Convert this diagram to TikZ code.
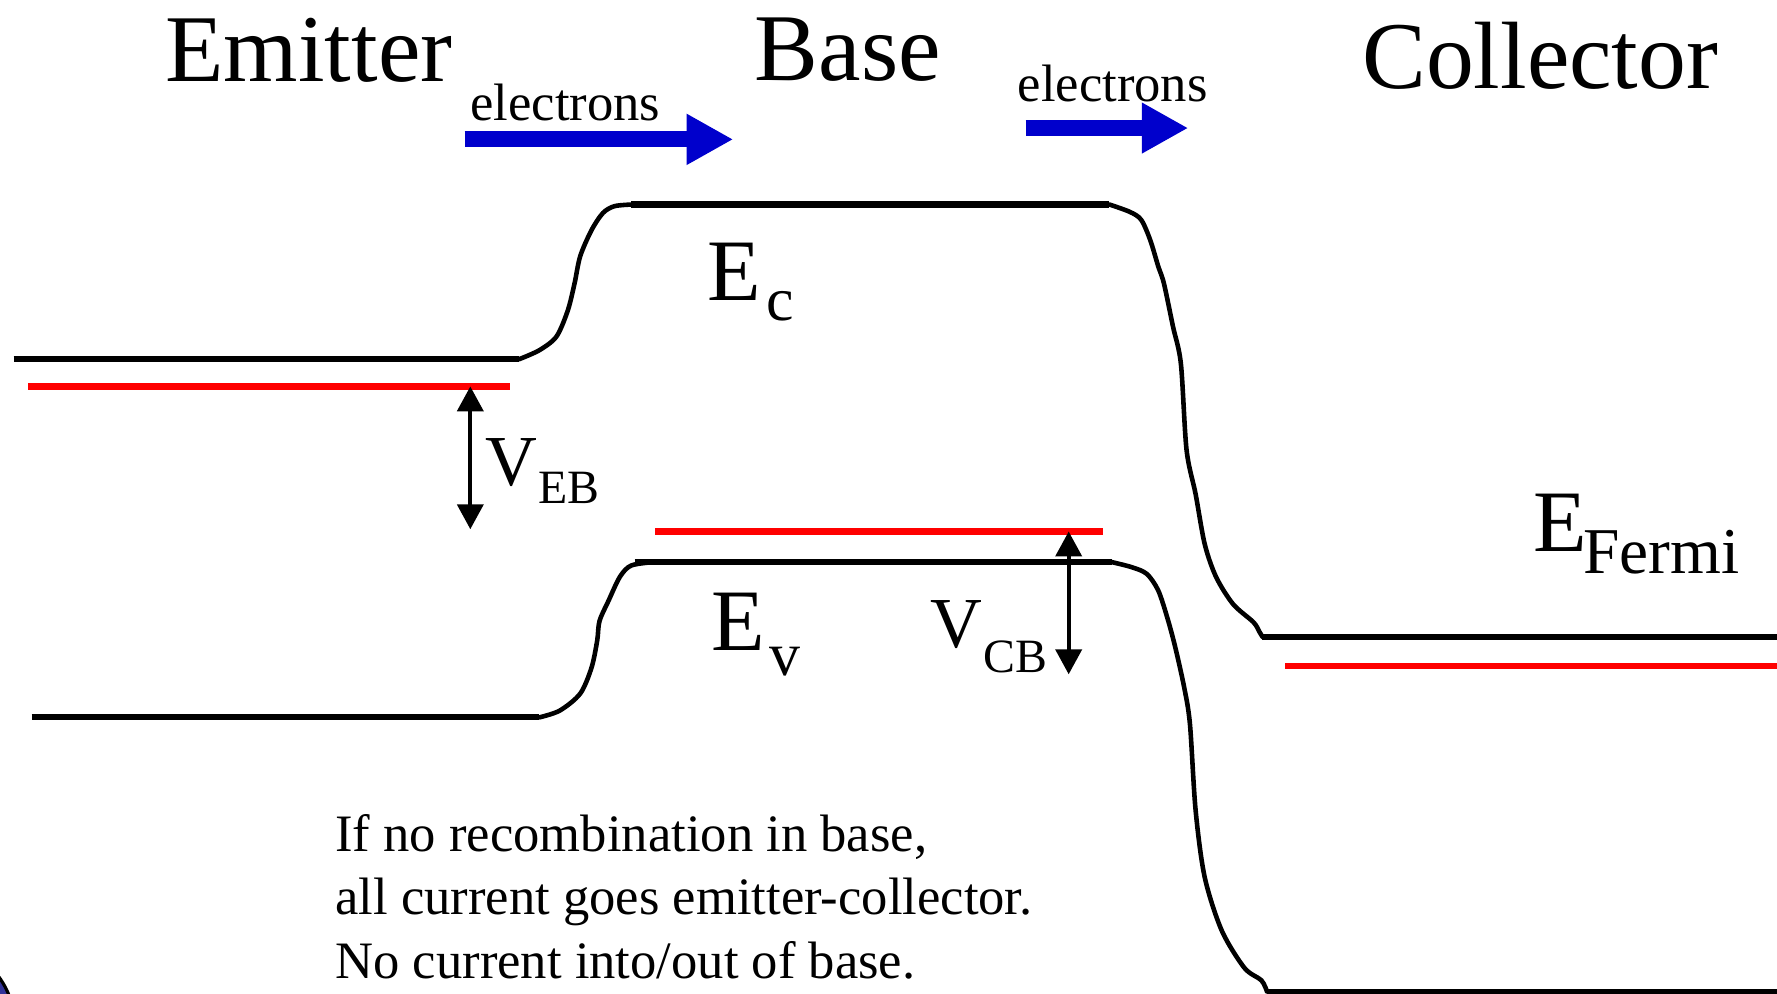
\documentclass[tikz,border=0pt]{standalone}
\usepackage{fontspec}
\setmainfont{Liberation Serif}
\usetikzlibrary{arrows.meta}
\definecolor{eblue}{RGB}{0,0,204}
\definecolor{ered}{RGB}{255,0,0}
\definecolor{logoblue}{RGB}{51,51,153}
\begin{document}
\begin{tikzpicture}[x=0.01cm,y=-0.01cm,
  lbl/.style={anchor=base west,inner sep=0pt,outer sep=0pt},
  big/.style={lbl,font=\fontsize{24pt}{28pt}\selectfont},
  small/.style={lbl,font=\fontsize{13.2pt}{15.9pt}\selectfont},
  elab/.style={lbl,font=\fontsize{22pt}{26pt}\selectfont},
  esub/.style={lbl,font=\fontsize{15.5pt}{18pt}\selectfont},
  fsub/.style={lbl,font=\fontsize{16.4pt}{19pt}\selectfont},
  vlab/.style={lbl,font=\fontsize{18pt}{21pt}\selectfont},
  vsub/.style={lbl,font=\fontsize{12pt}{14pt}\selectfont},
  band/.style={line width=1.55pt,black},
  bandcurve/.style={line width=1.15pt,black,line cap=round,line join=round},
  fermi/.style={line width=1.55pt,ered},
  vbar/.style={line width=0.95pt,{Triangle[length=0.22cm,width=0.23cm]}-{Triangle[length=0.22cm,width=0.23cm]}},
  flow/.style={line width=0.14cm,eblue,-{Triangle[length=0.41cm,width=0.42cm]}}
]
\useasboundingbox (0,0) rectangle (1568,877);
\clip (0,0) rectangle (1568,877);

% fragment of a logo at bottom-left corner
\filldraw[fill=logoblue,draw=black,line width=0.8pt] (-60,905) circle (73);

% titles
\node[big] (emitter) at (146,72) {Emitter};
\node[big] (base) at (666,71) {Base};
\node[big] (collector) at (1202,78) {Collector};

% electron flow
\node[small] (el1) at (415,106) {electrons};
\node[small] (el2) at (898,90) {electrons};
\coordinate (f1a) at (410,123);
\coordinate (f1b) at (647,123);
\coordinate (f2a) at (905,113);
\coordinate (f2b) at (1048.5,113);
\draw[flow] (f1a) -- (f1b);
\draw[flow] (f2a) -- (f2b);

% conduction band edge
\draw[band] (12,317) -- (458,317);
\draw[bandcurve] plot[smooth,tension=0.5] coordinates {(458,317) (476,309) (491,297) (501,274) (507,250) (512,226) (522,203) (532,188) (542,182) (557,180.5)};
\draw[band] (557,180.5) -- (979,180.5);
\draw[bandcurve] plot[smooth,tension=0.5] coordinates {(979,180.5) (997,187) (1007,194) (1015,212) (1022,235) (1027,250) (1035,288) (1042,321) (1047,397) (1055,436) (1063,480) (1073,509) (1088,533) (1106,549) (1111,557) (1114,562)};
\draw[band] (1114,562) -- (1568,562);

% valence band edge
\draw[band] (28,633) -- (476,633);
\draw[bandcurve] plot[smooth,tension=0.5] coordinates {(476,633) (494,627) (512,612) (522,589) (527,565) (529,548) (537,530) (547,509) (557,499) (577,496)};
\draw[band] (560,496) -- (981,496);
\draw[bandcurve] plot[smooth,tension=0.5] coordinates {(981,496) (999,500.6) (1012,506.5) (1022,521) (1030,545) (1037,571) (1045,607) (1050,639) (1055,715) (1063,774) (1078,821) (1098,854) (1113,865) (1118,875)};
\draw[band] (1118,875) -- (1568,875);

% Fermi levels
\draw[fermi] (25,341) -- (450,341);
\draw[fermi] (578,469) -- (973,469);
\draw[fermi] (1134,588) -- (1568,588);

% voltage arrows
\coordinate (vebT) at (415,341);
\coordinate (vebB) at (415,467);
\coordinate (vcbT) at (943,469);
\coordinate (vcbB) at (943,595);
\draw[vbar] (vebT) -- (vebB);
\draw[vbar] (vcbT) -- (vcbB);

% labels
\node[elab] (Ec) at (624,265) {E};
\node[esub] (Ecs) at (676,282.5) {c};
\node[elab] (Ev) at (628,574) {E};
\node[esub] (Evs) at (679,596) {v};
\node[vlab] (Veb) at (428,428.5) {V};
\node[vsub] (Vebs) at (475,444) {EB};
\node[vlab] (Vcb) at (821,571) {V};
\node[vsub] (Vcbs) at (868,593) {CB};
\node[elab] (Ef) at (1353,487) {E};
\node[fsub] (Efs) at (1397,506) {Fermi};

% note
\node[small] (n1) at (296,751.5) {If no recombination in base,};
\node[small] (n2) at (296,807) {all current goes emitter-collector.};
\node[small] (n3) at (296,863) {No current into/out of base.};
\end{tikzpicture}
\end{document}
